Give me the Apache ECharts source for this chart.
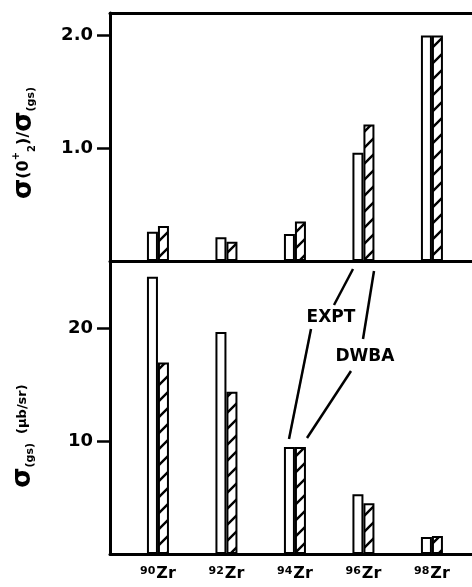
<!DOCTYPE html>
<html>
<head>
<meta charset="utf-8">
<script src="https://cdn.jsdelivr.net/npm/echarts@6/dist/echarts.min.js"></script>
<style>
  html, body { margin: 0; padding: 0; background: #fff; }
  #chart { width: 472px; height: 587px; }
</style>
</head>
<body>
<div id="chart"></div>
<script>
// isotopes (mass numbers), one bar group each
const isotopes = ['90', '92', '94', '96', '98'];
// top panel: sigma(02+)/sigma(gs)
const ratioExpt = [0.26, 0.21, 0.24, 0.96, 2.0];
const ratioDwba = [0.31, 0.17, 0.35, 1.21, 2.0];
// bottom panel: sigma(gs) in microbarn/sr
const gsExpt = [24.6, 19.7, 9.5, 5.3, 1.5];
const gsDwba = [17.0, 14.4, 9.5, 4.5, 1.6];
// tick positions
const ratioMajor = [1, 2];
const ratioMinor = [0.5, 1.5];
const gsMajor = [10, 20];
const gsMinor = [5, 15];

const FONT = 'DejaVu Sans';
const positions = isotopes.map((_, i) => i + 1);

// diagonal hatch for the DWBA bars
function hatchPattern() {
  const s = 16;
  const c = document.createElement('canvas');
  c.width = s; c.height = s;
  const g = c.getContext('2d');
  g.fillStyle = '#fff';
  g.fillRect(0, 0, s, s);
  g.strokeStyle = '#000';
  g.lineWidth = 2.4;
  g.beginPath();
  g.moveTo(-2, s + 2); g.lineTo(s + 2, -2);
  g.moveTo(-4, 4); g.lineTo(4, -4);
  g.moveTo(s - 4, s + 4); g.lineTo(s + 4, s - 4);
  g.stroke();
  return { image: c, repeat: 'repeat' };
}
const hatch = hatchPattern();

function barSeries(name, values, idx, fill) {
  return {
    type: 'bar',
    name: name,
    xAxisIndex: idx === 0 ? 0 : 2,
    yAxisIndex: idx * 2,
    data: values.map((v, i) => [positions[i], v]),
    barWidth: 11,
    barGap: '0%',
    silent: true,
    itemStyle: { color: fill, borderColor: '#000', borderWidth: 2 }
  };
}

function xAxis(idx, pos, withLabels) {
  return {
    type: 'value',
    gridIndex: idx,
    position: pos,
    min: 0.3,
    max: 5.585,
    axisLine: { show: true, onZero: false, lineStyle: { color: '#000', width: 3 } },
    axisTick: { show: false },
    splitLine: { show: false },
    axisLabel: withLabels ? {
      show: true,
      customValues: positions,
      margin: 12,
      formatter: v => '{sup|' + isotopes[v - 1] + '}{zr|Zr}',
      rich: {
        sup: { fontSize: 11, fontWeight: 'bold', fontFamily: FONT, color: '#000',
               lineHeight: 11, verticalAlign: 'top', padding: [0, 1, 10, 0] },
        zr: { fontSize: 16, fontWeight: 'bold', fontFamily: FONT, color: '#000',
              lineHeight: 16, verticalAlign: 'bottom' }
      }
    } : { show: false }
  };
}

function yAxes(idx, max, major, minor, fmt) {
  return [{
    type: 'value',
    gridIndex: idx,
    min: 0,
    max: max,
    axisLine: { show: true, lineStyle: { color: '#000', width: 3 } },
    axisTick: { show: true, customValues: major, length: 13,
                lineStyle: { color: '#000', width: 2.5 } },
    splitLine: { show: false },
    axisLabel: { show: true, customValues: major, margin: 17, formatter: fmt,
                 fontSize: 18, fontWeight: 'bold', fontFamily: FONT, color: '#000' }
  }, {
    type: 'value',
    gridIndex: idx,
    min: 0,
    max: max,
    axisLine: { show: false },
    axisTick: { show: true, customValues: minor, length: 7,
                lineStyle: { color: '#000', width: 2.5 } },
    splitLine: { show: false },
    axisLabel: { show: false }
  }];
}

const titleRich = {
  sig: { fontSize: 26, fontWeight: 'bold', fontFamily: FONT, fill: '#000', lineHeight: 26 },
  p: { fontSize: 16, fontWeight: 'bold', fontFamily: FONT, fill: '#000', lineHeight: 26 },
  sup: { fontSize: 10, fontWeight: 'bold', fontFamily: FONT, fill: '#000', verticalAlign: 'top', lineHeight: 14 },
  sub: { fontSize: 10, fontWeight: 'bold', fontFamily: FONT, fill: '#000', verticalAlign: 'bottom', lineHeight: 14 },
  gs: { fontSize: 11, fontWeight: 'bold', fontFamily: FONT, fill: '#000', verticalAlign: 'bottom', lineHeight: 16 },
  u: { fontSize: 13, fontWeight: 'bold', fontFamily: FONT, fill: '#000', lineHeight: 26 }
};

const lineStyle = { stroke: '#000', lineWidth: 2.5 };
const labelFont = 'bold 17px "DejaVu Sans"';

const chart = echarts.init(document.getElementById('chart'), null, { renderer: 'canvas' });
chart.setOption({
  animation: false,
  backgroundColor: '#fff',
  grid: [
    { left: 110, top: 13, right: 0, height: 248 },
    { left: 110, top: 261, right: 0, height: 294 }
  ],
  xAxis: [xAxis(0, 'bottom', false), xAxis(0, 'top', false), xAxis(1, 'bottom', true)],
  yAxis: [
    ...yAxes(0, 2.2, ratioMajor, ratioMinor, v => v.toFixed(1)),
    ...yAxes(1, 26, gsMajor, gsMinor, v => String(v))
  ],
  series: [
    barSeries('EXPT', ratioExpt, 0, '#fff'),
    barSeries('DWBA', ratioDwba, 0, hatch),
    barSeries('EXPT', gsExpt, 1, '#fff'),
    barSeries('DWBA', gsDwba, 1, hatch)
  ],
  graphic: [
    { type: 'text', x: 24, y: 143, rotation: Math.PI / 2,
      style: { text: '{sig|σ}{p|(0}{sup|+}{sub|2}{p|)/}{sig|σ}{gs|(gs)}',
               rich: titleRich, textAlign: 'center', textVerticalAlign: 'middle' } },
    { type: 'text', x: 23, y: 436, rotation: Math.PI / 2,
      style: { text: '{sig|σ}{gs|(gs)}{u|  (μb/sr)}',
               rich: titleRich, textAlign: 'center', textVerticalAlign: 'middle' } },
    { type: 'text', x: 331, y: 318,
      style: { text: 'EXPT', font: labelFont, fill: '#000', textAlign: 'center', textVerticalAlign: 'middle' } },
    { type: 'text', x: 365, y: 357,
      style: { text: 'DWBA', font: labelFont, fill: '#000', textAlign: 'center', textVerticalAlign: 'middle' } },
    { type: 'line', shape: { x1: 334, y1: 305, x2: 353, y2: 269 }, style: lineStyle },
    { type: 'line', shape: { x1: 311, y1: 329, x2: 289, y2: 439 }, style: lineStyle },
    { type: 'line', shape: { x1: 363, y1: 339, x2: 374, y2: 271 }, style: lineStyle },
    { type: 'line', shape: { x1: 351, y1: 371, x2: 307, y2: 438 }, style: lineStyle }
  ]
});
</script>
</body>
</html>
